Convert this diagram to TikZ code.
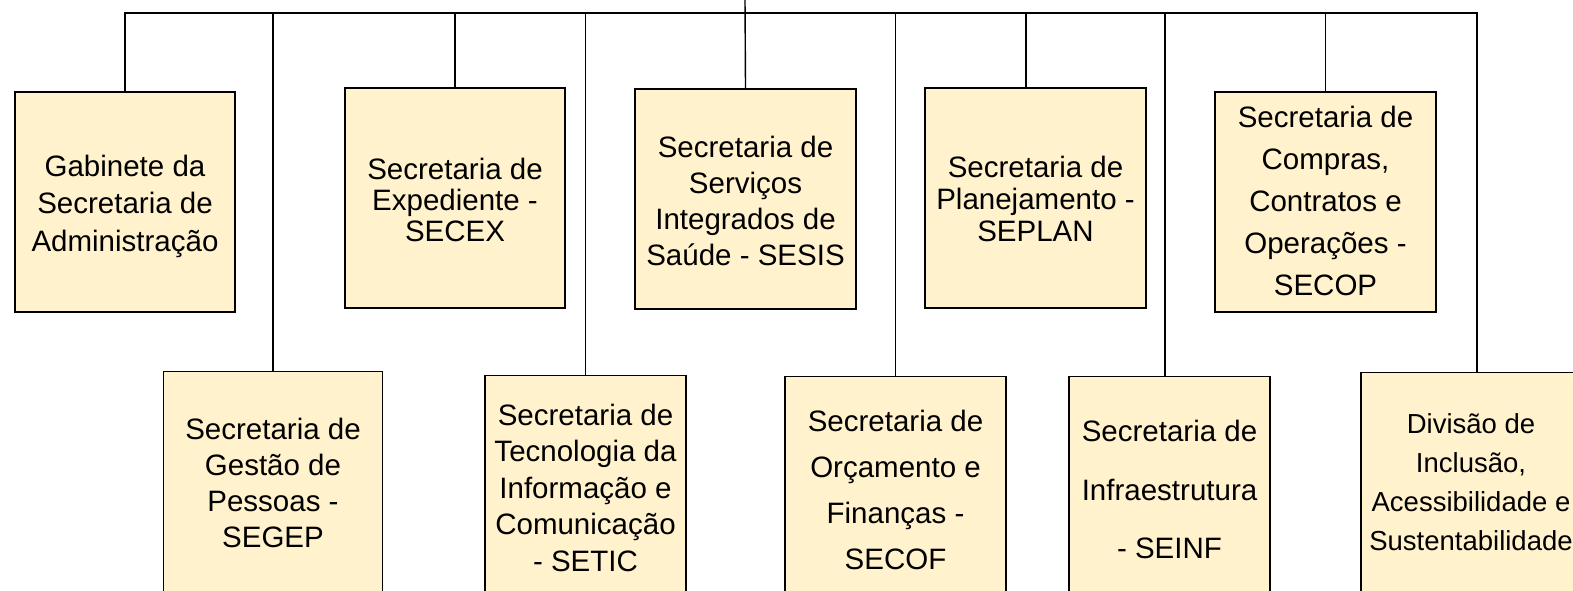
\documentclass[tikz,border=0pt]{standalone}
\usepackage{fontspec}
\setmainfont{Liberation Sans}
\usetikzlibrary{positioning}

\definecolor{secfill}{HTML}{FFF2CC}

\tikzset{
	secbox/.style={draw=black, line width=1.4pt, fill=secfill, inner sep=0pt, minimum width=#1, minimum height=220pt},
	secbox/.default=220pt,
	lowbox/.style={secbox=#1, minimum height=260pt, anchor=north},
	sectext/.style={align=center, inner sep=0pt, font=\fontsize{29.5}{#1}\selectfont},
	sectext/.default=36pt,
	link/.style={draw=black, line width=1.4pt}
}

\begin{document}
\begin{tikzpicture}[x=1pt, y=-1pt]
		\useasboundingbox (0,0) rectangle (1573,591);
		\clip (0,0) rectangle (1573,591);

		% upper row
		\node[secbox] (gab) at (125,202) {};
		\node[secbox] (secex) at (455,198) {};
		\node[secbox=221pt] (sesis) at (745.5,199) {};
		\node[secbox=221pt] (seplan) at (1035.5,198) {};
		\node[secbox=221pt] (secop) at (1325.5,202) {};

		% lower row
		\node[lowbox=219.5pt] (segep) at (273,371) {};
		\node[lowbox=201pt] (setic) at (585.5,375) {};
		\node[lowbox=221pt] (secof) at (895.5,376) {};
		\node[lowbox=201pt] (seinf) at (1169.5,376) {};
		\node[lowbox=232pt] (divis) at (1477,372) {};

		% texts
		\node[sectext=37.5pt] (gabt) at (125,206) {Gabinete da\\Secretaria de\\Administração};
		\node[sectext=31pt] (secext) at (455,199.5) {Secretaria de\\Expediente -\\SECEX};
		\node[sectext=36pt] (sesist) at (745.5,200.5) {Secretaria de\\Serviços\\Integrados de\\Saúde - SESIS};
		\node[sectext=32pt] (seplant) at (1035.5,199) {Secretaria de\\Planejamento -\\SEPLAN};
		\node[sectext=42pt] (secopt) at (1325.5,201) {Secretaria de\\Compras,\\Contratos e\\Operações -\\SECOP};
		\node[sectext=36pt] (segept) at (273,482.5) {Secretaria de\\Gestão de\\Pessoas -\\SEGEP};
		\node[sectext=36.5pt] (setict) at (585.5,487.5) {Secretaria de\\Tecnologia da\\Informação e\\Comunicação\\- SETIC};
		\node[sectext=46pt] (secoft) at (895.5,489.5) {Secretaria de\\Orçamento e\\Finanças -\\SECOF};
		\node[sectext=58.5pt] (seinft) at (1169.5,489.5) {Secretaria de\\Infraestrutura\\- SEINF};
		\node[sectext, font=\fontsize{27.5}{39}\selectfont] (divist) at (1471,482) {Divisão de\\Inclusão,\\Acessibilidade e\\Sustentabilidade};

		% connectors
		\coordinate (top) at (745,0);
		\coordinate (bus) at (745,13);
		\draw[link] (top) -- (sesis.north);
		\draw[link] (gab.north) |- (bus) -| (divis.north);
		\foreach \sec in {segep,secex,setic,secof,secop}
			\draw[link] (\sec.north) -- (\sec.north |- bus);
		\draw[link] ([xshift=-9.5pt]seplan.north) -- ([xshift=-9.5pt]seplan.north |- bus);
		\draw[link] ([xshift=-4.5pt]seinf.north) -- ([xshift=-4.5pt]seinf.north |- bus);

	\end{tikzpicture}
\end{document}
